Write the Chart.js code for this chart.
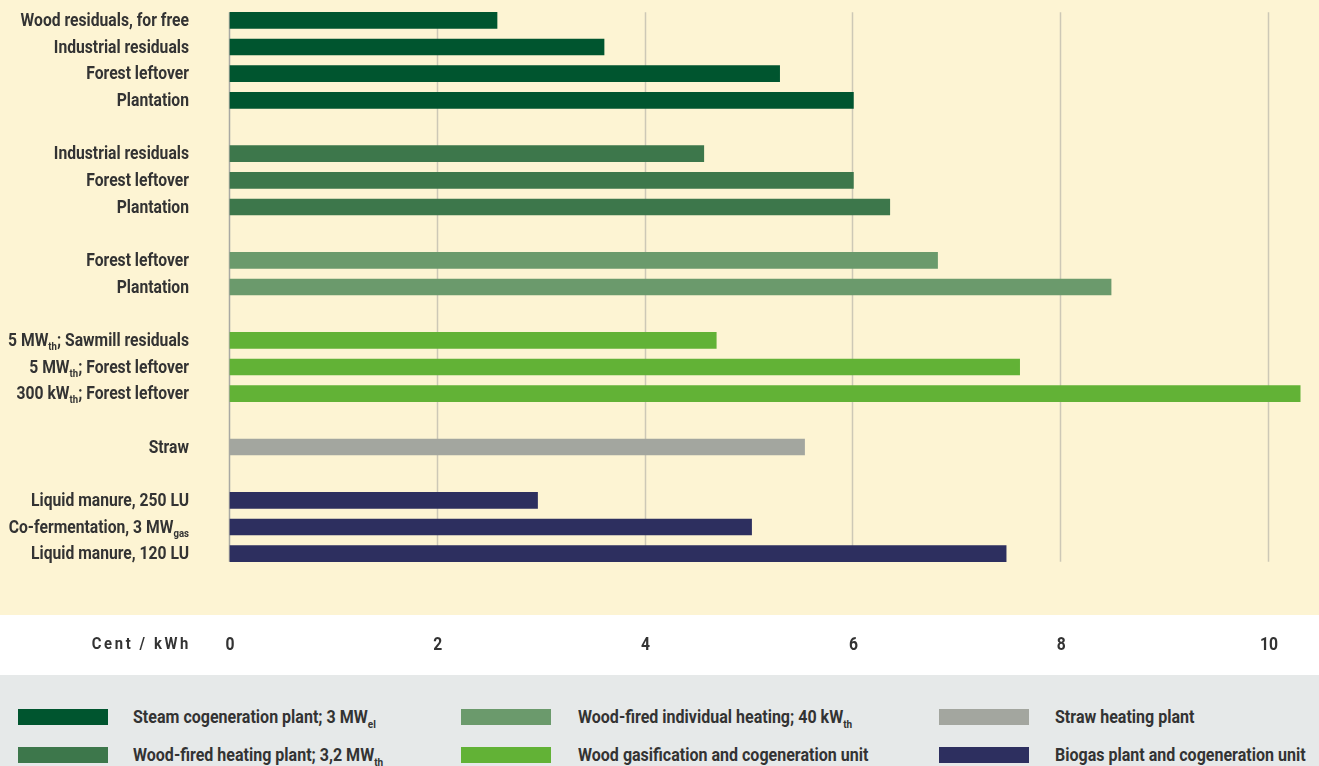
<!DOCTYPE html>
<html>
<head>
<meta charset="utf-8">
<script src="https://cdn.jsdelivr.net/npm/chart.js@4/dist/chart.umd.min.js"></script>
<style>
  body { margin: 0; width: 1319px; height: 766px; overflow: hidden; background: #fdf4d3;
    font-family: Roboto, "DejaVu Sans", sans-serif; font-weight: bold; color: #333; }
  #legend { position: relative; width: 1319px; height: 91px; background: #e6e9e9; }
  .item { position: absolute; font-size: 18.4px; line-height: 16px; white-space: nowrap; transform-origin: 0 50%; }
  .box { position: absolute; width: 90px; height: 16px; }
  .item sub { font-size: 11.5px; vertical-align: -5px; line-height: 0; }
</style>
</head>
<body>
<canvas id="myChart" width="1319" height="675"></canvas>
<div id="legend"></div>
<script>
"use strict";

// rows from top to bottom, "" = gap row, _{..} = subscript
const categories = [
  "Wood residuals, for free", "Industrial residuals", "Forest leftover", "Plantation", "",
  "Industrial residuals", "Forest leftover", "Plantation", "",
  "Forest leftover", "Plantation", "",
  "5 MW_{th}; Sawmill residuals", "5 MW_{th}; Forest leftover", "300 kW_{th}; Forest leftover", "",
  "Straw", "",
  "Liquid manure, 250 LU", "Co-fermentation, 3 MW_{gas}", "Liquid manure, 120 LU",
];

const steamCogen = [2.57, 3.6, 5.29, 6.0, null, null, null, null, null, null, null, null, null, null, null, null, null, null, null, null, null];
const woodHeatingPlant = [null, null, null, null, null, 4.56, 6.0, 6.35, null, null, null, null, null, null, null, null, null, null, null, null, null];
const woodIndividual = [null, null, null, null, null, null, null, null, null, 6.81, 8.48, null, null, null, null, null, null, null, null, null, null];
const woodGasification = [null, null, null, null, null, null, null, null, null, null, null, null, 4.68, 7.6, 10.3, null, null, null, null, null, null];
const strawHeating = [null, null, null, null, null, null, null, null, null, null, null, null, null, null, null, null, 5.53, null, null, null, null];
const biogas = [null, null, null, null, null, null, null, null, null, null, null, null, null, null, null, null, null, null, 2.96, 5.02, 7.47];

const xTicks = [0, 2, 4, 6, 8, 10];
const xTitle = "Cent / kWh";

const seriesNames = [
  "Steam cogeneration plant; 3 MW_{el}",
  "Wood-fired heating plant; 3,2 MW_{th}",
  "Wood-fired individual heating; 40 kW_{th}",
  "Wood gasification and cogeneration unit",
  "Straw heating plant",
  "Biogas plant and cogeneration unit",
];
const colors = ["#00552f", "#3d774b", "#6b9a6c", "#62b236", "#a3a69f", "#2d2f5f"];

const FONT = 'Roboto, "DejaVu Sans", sans-serif';
const SIZE = 18;

// the original uses a condensed face: squeeze text to the same width
const meas = document.createElement("canvas").getContext("2d");
meas.font = "bold " + SIZE + "px " + FONT;
const squeeze = 158 / meas.measureText("Liquid manure, 120 LU").width;

function parts(text) {
  let out = [];
  let re = /_\{([^}]*)\}/g;
  let last = 0, m;
  while ((m = re.exec(text)) !== null) {
    if (m.index > last) out.push({ t: text.slice(last, m.index), sub: false });
    out.push({ t: m[1], sub: true });
    last = re.lastIndex;
  }
  if (last < text.length) out.push({ t: text.slice(last), sub: false });
  return out;
}

function drawRich(ctx, text, xRight, y, size) {
  let segs = parts(text);
  let w = 0;
  segs.forEach(s => {
    ctx.font = "bold " + (s.sub ? Math.round(size * 0.62) : size) + "px " + FONT;
    s.w = ctx.measureText(s.t).width * squeeze;
    w += s.w;
  });
  let x = xRight - w;
  segs.forEach(s => {
    ctx.font = "bold " + (s.sub ? Math.round(size * 0.62) : size) + "px " + FONT;
    ctx.save();
    ctx.translate(x, s.sub ? y + 6 : y);
    ctx.scale(squeeze, 1);
    ctx.fillText(s.t, 0, 0);
    ctx.restore();
    x += s.w;
  });
}

const decor = {
  id: "decor",
  beforeDraw(chart) {
    const ctx = chart.ctx;
    ctx.save();
    ctx.fillStyle = "#fdf4d3";
    ctx.fillRect(0, 0, chart.width, 615);
    ctx.fillStyle = "#ffffff";
    ctx.fillRect(0, 615, chart.width, chart.height - 615);
    ctx.restore();
  },
  beforeDatasetsDraw(chart) {
    const ctx = chart.ctx;
    const xs = chart.scales.x, ys = chart.scales.y;
    const top = ys.getPixelForValue(0) - 8;
    const bottom = ys.getPixelForValue(categories.length - 1) + 8;
    ctx.save();
    xTicks.forEach(v => {
      const x = Math.round(xs.getPixelForValue(v)) - 0.5;
      ctx.strokeStyle = v === 0 ? "#a9a9a2" : "#cdc8b6";
      ctx.lineWidth = 1.5;
      ctx.beginPath();
      ctx.moveTo(x, top);
      ctx.lineTo(x, bottom);
      ctx.stroke();
    });
    ctx.restore();
  },
  afterDraw(chart) {
    const ctx = chart.ctx;
    const xs = chart.scales.x, ys = chart.scales.y;
    ctx.save();
    ctx.fillStyle = "#333333";
    ctx.textBaseline = "middle";
    ctx.textAlign = "left";
    categories.forEach((c, i) => {
      if (c) drawRich(ctx, c, 189, ys.getPixelForValue(i) + 1, SIZE);
    });
    ctx.font = "bold 18px " + FONT;
    ctx.textAlign = "center";
    xTicks.forEach(v => {
      ctx.save();
      ctx.translate(xs.getPixelForValue(v), 645);
      ctx.scale(squeeze, 1);
      ctx.fillText(String(v), 0, 0);
      ctx.restore();
    });
    ctx.font = "bold 17px " + FONT;
    ctx.textAlign = "right";
    ctx.letterSpacing = "3px";
    ctx.save();
    ctx.translate(191, 645);
    ctx.scale(squeeze, 1);
    ctx.fillText(xTitle, 0, 0);
    ctx.restore();
    ctx.restore();
  },
};

const ctx = document.getElementById("myChart");

new Chart(ctx, {
  type: "bar",
  data: {
    labels: categories,
    datasets: [steamCogen, woodHeatingPlant, woodIndividual, woodGasification, strawHeating, biogas].map((d, i) => ({
      label: seriesNames[i],
      data: d,
      backgroundColor: colors[i],
      barThickness: 16,
      grouped: false,
      clip: false,
    })),
  },
  options: {
    indexAxis: "y",
    responsive: false,
    animation: false,
    layout: { padding: { left: 230, right: 50, top: 7, bottom: 108 } },
    plugins: { legend: { display: false }, tooltip: { enabled: false } },
    scales: {
      x: { display: false, min: 0, max: 10, ticks: { stepSize: 2 } },
      y: { display: false },
    },
  },
  plugins: [decor],
});

// legend below the chart
const legend = document.getElementById("legend");
const cols = [[18, 133], [461, 578], [939, 1055]];
const rows = [34, 72];
seriesNames.forEach((name, i) => {
  const c = cols[Math.floor(i / 2)], r = rows[i % 2];
  const box = document.createElement("div");
  box.className = "box";
  box.style.left = c[0] + "px";
  box.style.top = r + "px";
  box.style.background = colors[i];
  legend.appendChild(box);
  const t = document.createElement("div");
  t.className = "item";
  t.style.left = c[1] + "px";
  t.style.top = r + "px";
  t.style.transform = "scaleX(" + squeeze + ")";
  t.innerHTML = parts(name).map(s => s.sub ? "<sub>" + s.t + "</sub>" : s.t).join("");
  legend.appendChild(t);
});
</script>
</body>
</html>
